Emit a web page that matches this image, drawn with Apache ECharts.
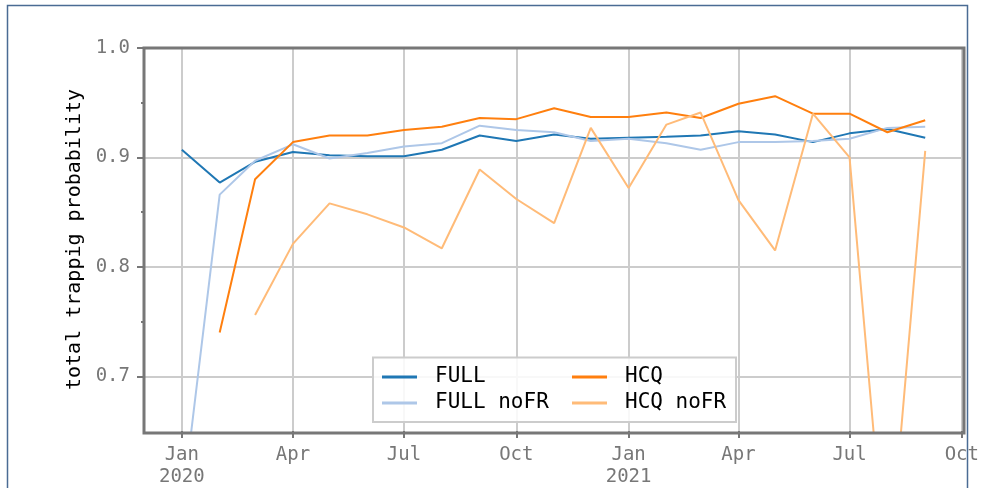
<!DOCTYPE html>
<html>
<head>
<meta charset="utf-8">
<script src="https://cdn.jsdelivr.net/npm/echarts@6/dist/echarts.min.js"></script>
<style>
html,body{margin:0;padding:0;background:#fff;}
#c{width:982px;height:488px;}
</style>
</head>
<body>
<div id="c"></div>
<script>
// ---- data ----
const months = ['2020-01-01','2020-02-01','2020-03-01','2020-04-01','2020-05-01','2020-06-01','2020-07-01','2020-08-01','2020-09-01','2020-10-01','2020-11-01','2020-12-01','2021-01-01','2021-02-01','2021-03-01','2021-04-01','2021-05-01','2021-06-01','2021-07-01','2021-08-01','2021-09-01'];
const full     = [0.907,0.877,0.896,0.905,0.902,0.901,0.901,0.907,0.920,0.915,0.921,0.917,0.918,0.919,0.920,0.924,0.921,0.914,0.922,0.926,0.918];
const fullNoFR = [0.578,0.866,0.897,0.912,0.899,0.904,0.910,0.913,0.929,0.925,0.923,0.915,0.917,0.913,0.907,0.914,0.914,0.915,0.917,0.927,0.928];
const hcq      = [null,0.740,0.880,0.914,0.920,0.920,0.925,0.928,0.936,0.935,0.945,0.937,0.937,0.941,0.936,0.949,0.956,0.940,0.940,0.923,0.934];
const hcqNoFR  = [null,null,0.756,0.821,0.858,0.848,0.836,0.817,0.889,0.862,0.840,0.927,0.872,0.930,0.941,0.861,0.815,0.940,0.900,0.505,0.906];
const xTicks = ['2020-01-01','2020-04-01','2020-07-01','2020-10-01','2021-01-01','2021-04-01','2021-07-01','2021-10-01'];
const yMajor = [0.7,0.8,0.9,1.0];
const yMinor = [0.75,0.85,0.95];
const monthNames = ['Jan','Feb','Mar','Apr','May','Jun','Jul','Aug','Sep','Oct','Nov','Dec'];

function ts(s){const p=s.split('-');return new Date(+p[0],+p[1]-1,+p[2]).getTime();}
function pairs(vals){return months.map((m,i)=>[ts(m),vals[i]]);}

const MONO = '"DejaVu Sans Mono", monospace';
const chart = echarts.init(document.getElementById('c'));

function lineSeries(name,vals,color){
  return {name:name,type:'line',data:pairs(vals),showSymbol:false,symbol:'none',
    connectNulls:false,clip:true,lineStyle:{color:color,width:2},itemStyle:{color:color},z:3};
}

chart.setOption({
  animation:false,
  backgroundColor:'#fff',
  grid:{left:144,right:18,top:48,bottom:55,show:false},
  xAxis:{
    type:'value',
    min:ts('2019-12-01'), max:ts('2021-10-01'),
    axisLine:{show:false},
    axisTick:{show:true,customValues:xTicks.map(ts),length:7,lineStyle:{color:'#777',width:2}},
    axisLabel:{customValues:xTicks.map(ts),margin:13,color:'#777',fontFamily:MONO,fontSize:19,lineHeight:22,
      formatter:function(v){const d=new Date(v);const m=d.getMonth();return m===0?monthNames[m]+'\n'+d.getFullYear():monthNames[m];}},
    splitLine:{show:true,lineStyle:{color:'#cccccc',width:2}}
  },
  yAxis:[{
    type:'value',min:0.65,max:1.0,
    name:'total trappig probability',nameLocation:'middle',nameGap:54,
    nameTextStyle:{color:'#000',fontFamily:MONO,fontSize:20},
    axisLine:{show:false},
    axisTick:{show:true,customValues:yMajor,length:7,lineStyle:{color:'#777',width:2}},
    axisLabel:{customValues:yMajor,margin:14,color:'#777',fontFamily:MONO,fontSize:19,formatter:v=>v.toFixed(1)},
    splitLine:{show:true,lineStyle:{color:'#cccccc',width:2}}
  },{
    type:'value',min:0.65,max:1.0,position:'left',
    axisLine:{show:false},
    axisTick:{show:true,customValues:yMinor,length:3,lineStyle:{color:'#777',width:2}},
    axisLabel:{show:false},
    splitLine:{show:false}
  }],
  legend:[{
    data:['FULL','FULL noFR'],orient:'vertical',left:382,top:366,padding:0,itemGap:4,
    itemWidth:35,itemHeight:3,icon:'rect',itemStyle:{borderWidth:0},
    textStyle:{fontFamily:MONO,fontSize:21,color:'#000',lineHeight:22,padding:[0,0,0,13]},z:100
  },{
    data:['HCQ','HCQ noFR'],orient:'vertical',left:572,top:366,padding:0,itemGap:4,
    itemWidth:35,itemHeight:3,icon:'rect',itemStyle:{borderWidth:0},
    textStyle:{fontFamily:MONO,fontSize:21,color:'#000',lineHeight:22,padding:[0,0,0,13]},z:100
  }],
  graphic:[
    {type:'rect',z:-10,silent:true,shape:{x:7.5,y:5.5,width:960,height:520},style:{fill:'none',stroke:'#4a6b94',lineWidth:1.5}},
    {type:'rect',z:40,silent:true,shape:{x:144,y:48,width:820,height:385},style:{fill:'none',stroke:'#777',lineWidth:3}},
    {type:'rect',z:50,silent:true,shape:{x:373,y:357.5,width:363,height:64.5},style:{fill:'rgba(255,255,255,0.85)',stroke:'#cccccc',lineWidth:2}}
  ],
  series:[
    lineSeries('FULL',full,'#1f77b4'),
    lineSeries('FULL noFR',fullNoFR,'#aec7e8'),
    lineSeries('HCQ',hcq,'#ff7f0e'),
    lineSeries('HCQ noFR',hcqNoFR,'#ffbb78')
  ]
});
</script>
</body>
</html>
